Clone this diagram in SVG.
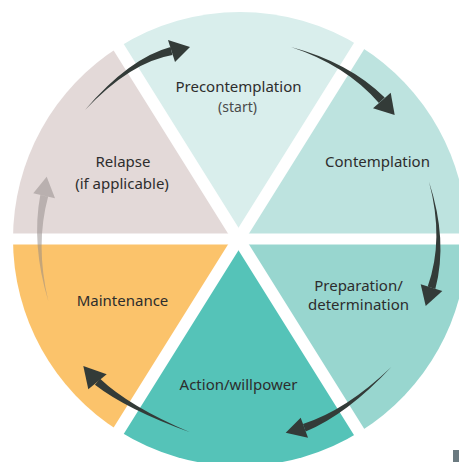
<svg xmlns="http://www.w3.org/2000/svg" width="459" height="462" viewBox="0 0 459 462">
<style>
.lbl{font-family:"Noto Sans","Open Sans","DejaVu Sans",sans-serif;font-size:15px;fill:#2d2d2d;text-anchor:middle}
.sub{font-size:14px;fill:#4a4a4a}
.arr{fill:#333b38}
.arr-faint{fill:#8f8886;opacity:0.5}
.gap{stroke:#ffffff;fill:none}
</style>
<rect width="459" height="462" fill="#ffffff"/>
<g id="relapse">
<path d="M238.5,239 L13,239 A227,227 0 0 1 119.7,46.5 Z" fill="#e3d9d8"/>
<text class="lbl" x="123" y="166.5">Relapse</text>
<text class="lbl" x="122" y="188.5">(if applicable)</text>
</g>
<g id="precontemplation">
<path d="M238.5,239 L119.7,46.5 A227,227 0 0 1 360.3,46.5 Z" fill="#d9eeec"/>
<text class="lbl" x="238.5" y="91.5">Precontemplation</text>
<text class="lbl sub" x="237.5" y="111.5">(start)</text>
</g>
<g id="contemplation">
<path d="M238.5,239 L360.3,46.5 A227,227 0 0 1 467,239 Z" fill="#bde3df"/>
<text class="lbl" x="377.5" y="166.5">Contemplation</text>
</g>
<g id="preparation">
<path d="M238.5,239 L467,239 A227,227 0 0 1 360.3,431.5 Z" fill="#98d6cf"/>
<text class="lbl" x="358.5" y="291">Preparation/</text>
<text class="lbl" x="358.5" y="309.5">determination</text>
</g>
<g id="action">
<path d="M238.5,239 L360.3,431.5 A227,227 0 0 1 119.7,431.5 Z" fill="#55c3b8"/>
<text class="lbl" x="238.5" y="389.5">Action/willpower</text>
</g>
<g id="maintenance">
<path d="M238.5,239 L119.7,431.5 A227,227 0 0 1 13,239 Z" fill="#fbc36b"/>
<text class="lbl" x="122.5" y="306">Maintenance</text>
</g>
<g id="gaps">
<line class="gap" x1="0" y1="239" x2="459" y2="239" stroke-width="11"/>
<line class="gap" x1="79.5" y1="-15.4" x2="397.5" y2="493.4" stroke-width="12"/>
<line class="gap" x1="397.5" y1="-15.4" x2="79.5" y2="493.4" stroke-width="12"/>
</g>
<g id="connectors">
<path class="arr" d="M85,110 Q130.4,62 172.4,54.9 L170.6,47.1 Q129.6,58 85,110 Z"/>
<path class="arr" d="M168,40 L190,47 L175,62 Z"/>
<path class="arr" d="M291,47 Q346.5,65.4 378.9,103 L384.7,97.6 Q349.5,62.6 291,47 Z"/>
<path class="arr" d="M373,108.3 L394.7,115 L390.7,92.7 Z"/>
<path class="arr" d="M429,181.7 Q444.4,239.4 427.7,286.5 L435.3,288.9 Q448.2,240.6 429,181.7 Z"/>
<path class="arr" d="M420.7,284.3 L425.7,306 L442.3,291 Z"/>
<path class="arr" d="M391.3,367 Q345.9,410.4 303,423.9 L305.7,431.5 Q347.3,414.2 391.3,367 Z"/>
<path class="arr" d="M300.7,417.7 L285.7,432.7 L308,437.7 Z"/>
<path class="arr" d="M190,432.3 Q129.3,406.5 100.1,378.8 L94.9,384.8 Q126.7,409.5 190,432.3 Z"/>
<path class="arr" d="M88.3,389.3 L83.3,366 L106.7,374.3 Z"/>
<g class="arr-faint">
<path d="M48.3,301 Q35,244.9 48.1,196.7 L40.3,194.9 Q31.1,244.1 48.3,301 Z M33.3,193.3 L46.7,176.7 L55,198.3 Z"/>
</g>
</g>
<rect x="453" y="450" width="6" height="12" fill="#6b7a80"/>
</svg>
